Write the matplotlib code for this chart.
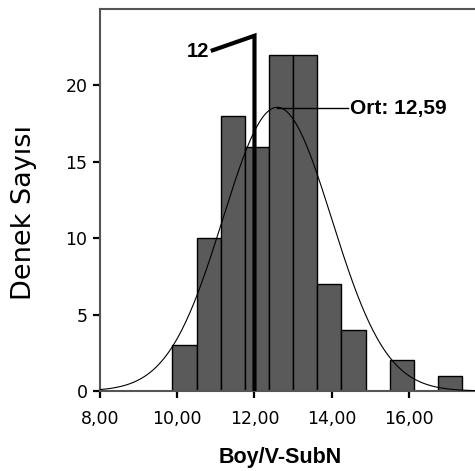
import numpy as np
import matplotlib
matplotlib.use("Agg")
import matplotlib.pyplot as plt

# Data
bin_start = 9.875
bin_width = 0.625
counts = [3, 10, 18, 16, 22, 22, 7, 4, 0, 2, 0, 1]
mean_val = 12.59
sd_val = 1.41
n_total = sum(counts)
marker_value = 12.0
xticks = [8, 10, 12, 14, 16]
xticklabels = ["8,00", "10,00", "12,00", "14,00", "16,00"]
yticks = [0, 5, 10, 15, 20]
mean_label = "Ort: 12,59"
marker_label = "12"

fig = plt.figure(figsize=(4.75, 4.71), dpi=100)
ax = fig.add_axes([100/475, 80/471, 1 - 100/475, 382/471])

lefts = [bin_start + i * bin_width for i in range(len(counts))]
ax.bar(lefts, counts, width=bin_width, align='edge', color='#5a5a5a',
       edgecolor='black', linewidth=1.0, zorder=2)

xs = np.linspace(8, 18, 400)
ys = n_total * bin_width / (sd_val * np.sqrt(2 * np.pi)) * np.exp(-0.5 * ((xs - mean_val) / sd_val) ** 2)
ax.plot(xs, ys, color='black', lw=0.8, zorder=3)

# marker line at 12
ax.plot([marker_value, marker_value, 10.92], [0, 23.25, 22.3], color='black', lw=3.0,
        solid_joinstyle='miter', zorder=4)
ax.text(10.83, 22.25, marker_label, ha='right', va='center', fontsize=14.5,
        fontweight='bold', family='Liberation Sans', zorder=5)

# mean label
ax.plot([mean_val, 14.42], [18.5, 18.5], color='black', lw=1.0, zorder=4)
ax.text(14.47, 18.5, mean_label, ha='left', va='center', fontsize=15,
        fontweight='bold', family='Liberation Sans', zorder=5)

ax.set_xlim(8, 17.71)
ax.set_ylim(0, 25)
ax.set_xticks(xticks)
ax.set_xticklabels(xticklabels)
ax.set_yticks(yticks)
ax.tick_params(axis='both', length=5, width=1.6, color='black', labelsize=12.5,
               direction='out')
ax.tick_params(axis='x', pad=9)
ax.tick_params(axis='y', pad=4)

for s in ['top', 'left', 'bottom']:
    ax.spines[s].set_color('#555555')
    ax.spines[s].set_linewidth(1.5)
ax.spines['right'].set_visible(False)

ax.set_xlabel("Boy/V-SubN", fontsize=15.5, fontweight='bold', family='Liberation Sans', va='center')
ax.xaxis.set_label_coords(0.48, -67/382)
ax.set_ylabel("Denek Sayısı", fontsize=19.5, va='center', ha='center')
ax.yaxis.set_label_coords(-76/375, (391-212)/382)

fig.savefig("out.png", dpi=100)
